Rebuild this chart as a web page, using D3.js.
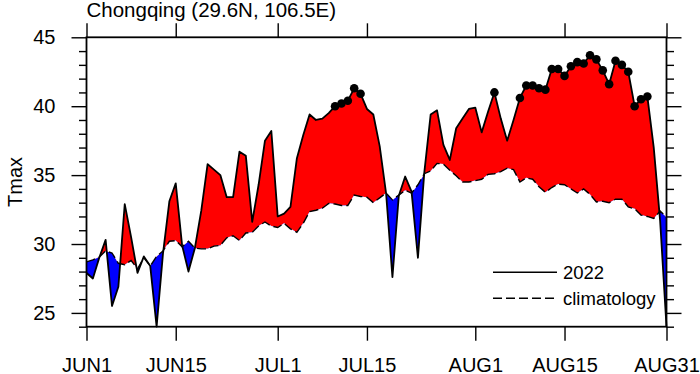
<!DOCTYPE html>
<html>
<head>
<meta charset="utf-8">
<script src="https://cdn.jsdelivr.net/npm/d3@7"></script>
<style>
    body { margin: 0; background: #fff; }
    svg { display: block; font-family: 'Liberation Sans', Arial, Helvetica, sans-serif; }
</style>
</head>
<body>
<div id="chart"></div>
<script>
// Daily Tmax at Chongqing, JUN1 .. AUG31 2022, and its climatology.
const startDate = new Date(2022, 5, 1);

const tmax2022 = [
    27.9, 27.5, 29.0, 30.3, 25.5, 26.9, 32.9, 30.5, 27.9, 29.1,
    28.4, 24.0, 29.3, 33.1, 34.4, 29.9, 28.0, 29.7, 32.4, 35.8,
    35.4, 35.0, 33.4, 33.4, 36.7, 36.4, 31.6, 34.3, 37.5, 38.2,
    32.0, 32.2, 32.7, 36.2, 37.9, 39.4, 39.0, 39.1, 39.5, 40.0,
    40.2, 40.4, 41.3, 40.9, 39.8, 39.4, 37.1, 33.7, 27.6, 33.5,
    34.9, 33.8, 29.0, 35.2, 39.4, 39.7, 37.2, 36.1, 38.4, 39.1,
    39.8, 39.9, 38.1, 39.6, 41.0, 39.1, 37.5, 39.0, 40.6, 41.5,
    41.5, 41.3, 41.2, 42.7, 42.7, 42.2, 42.9, 43.2, 43.1, 43.7,
    43.4, 42.6, 41.6, 43.3, 43.0, 42.5, 40.0, 40.5, 40.7, 37.0,
    31.7, 24.0,
];

const tmaxClim = [
    28.7, 28.85, 29.05, 29.5, 29.35, 28.6, 28.5, 28.8, 28.2, 29.0,
    28.4, 29.1, 29.5, 30.2, 30.25, 29.8, 30.2, 29.7, 29.65, 29.65,
    29.85, 29.9, 30.45, 30.6, 30.25, 30.8, 30.85, 31.3, 31.6, 31.3,
    31.2, 31.5, 31.1, 30.85, 31.5, 32.35, 32.45, 32.6, 32.95, 32.9,
    32.8, 32.8, 33.55, 33.45, 33.4, 33.0, 33.35, 33.7, 33.2, 33.55,
    33.9, 33.7, 34.3, 35.1, 35.3, 35.85, 35.8, 35.35, 34.95, 34.5,
    34.5, 34.6, 34.7, 35.05, 35.1, 35.25, 35.5, 35.4, 34.5, 34.8,
    34.7, 34.15, 33.75, 34.1, 34.35, 34.3, 34.0, 33.7, 34.0, 33.6,
    33.05, 33.1, 33.0, 33.25, 33.25, 32.7, 32.55, 32.1, 32.0, 31.85,
    32.4, 31.95,
];

// dots mark days at or above this value
const hotThreshold = 40;

const xTickLabels = ['JUN1', 'JUN15', 'JUL1', 'JUL15', 'AUG1', 'AUG15', 'AUG31'];
const xTickDates = [
    new Date(2022, 5, 1), new Date(2022, 5, 15), new Date(2022, 6, 1),
    new Date(2022, 6, 15), new Date(2022, 7, 1), new Date(2022, 7, 15),
    new Date(2022, 7, 31),
];
const yTicks = [25, 30, 35, 40, 45];

const title = 'Chongqing (29.6N, 106.5E)';
const yLabel = 'Tmax';
const legendLabels = ['2022', 'climatology'];

// Layout
const dimensions = {
    width: 700, height: 374,
    top: 37.3, right: 33.5, bottom: 47.3, left: 86.5,
};
const innerWidth = dimensions.width - dimensions.left - dimensions.right;
const innerHeight = dimensions.height - dimensions.top - dimensions.bottom;

const data = tmax2022.map((t, i) => ({
    date: d3.timeDay.offset(startDate, i),
    t: t,
    c: tmaxClim[i],
}));

const xScale = d3.scaleTime()
    .domain(d3.extent(data, d => d.date))
    .range([0, innerWidth]);

const yScale = d3.scaleLinear()
    .domain([d3.min(tmax2022), 45])
    .range([innerHeight, 0]);

const svg = d3.select('#chart')
    .append('svg')
        .attr('width', dimensions.width)
        .attr('height', dimensions.height);

const defs = svg.append('defs');

const g = svg.append('g')
    .attr('transform', `translate(${dimensions.left}, ${dimensions.top})`);

// clip regions above and below the climatology
defs.append('clipPath')
        .attr('id', 'clip-above')
    .append('path')
        .attr('d', d3.area()
            .x(d => xScale(d.date))
            .y0(0)
            .y1(d => yScale(d.c))(data));

defs.append('clipPath')
        .attr('id', 'clip-below')
    .append('path')
        .attr('d', d3.area()
            .x(d => xScale(d.date))
            .y0(d => yScale(d.c))
            .y1(innerHeight)(data));

const between = d3.area()
    .x(d => xScale(d.date))
    .y0(d => yScale(d.c))
    .y1(d => yScale(d.t));

g.append('path')
    .attr('d', between(data))
    .attr('fill', '#ff0000')
    .attr('clip-path', 'url(#clip-above)');

g.append('path')
    .attr('d', between(data))
    .attr('fill', '#0000ff')
    .attr('clip-path', 'url(#clip-below)');

const lineClim = d3.line()
    .x(d => xScale(d.date))
    .y(d => yScale(d.c));

const line2022 = d3.line()
    .x(d => xScale(d.date))
    .y(d => yScale(d.t));

g.append('path')
    .attr('d', lineClim(data))
    .attr('fill', 'none')
    .attr('stroke', '#000')
    .attr('stroke-width', 1.4)
    .attr('stroke-dasharray', '9,4');

g.append('path')
    .attr('d', line2022(data))
    .attr('fill', 'none')
    .attr('stroke', '#000')
    .attr('stroke-width', 1.8)
    .attr('stroke-linejoin', 'round');

g.selectAll('.hot')
    .data(data.filter(d => d.t >= hotThreshold))
    .join('circle')
        .attr('class', 'hot')
        .attr('cx', d => xScale(d.date))
        .attr('cy', d => yScale(d.t))
        .attr('r', 4.3)
        .attr('fill', '#000');

// Axes: outward ticks on all four sides
const yMinor = d3.range(Math.ceil(yScale.domain()[0]), 46).filter(v => v % 5 !== 0);

const styleAxis = (sel) => {
    sel.select('.domain').remove();
    sel.selectAll('line').attr('stroke', '#000').attr('stroke-width', 1.4);
    // tick-only axes leave empty labels behind
    sel.selectAll('text').filter(function() { return this.textContent === ''; }).remove();
    sel.selectAll('text')
        .attr('fill', '#000')
        .attr('font-size', '20px')
        .attr('font-family', "'Liberation Sans', Arial, sans-serif");
};

const xTickFormat = (d, i) => xTickLabels[i];

g.append('g')
    .attr('transform', `translate(0, ${innerHeight})`)
    .call(d3.axisBottom(xScale).tickValues(xTickDates).tickFormat(xTickFormat)
        .tickSize(14).tickPadding(17))
    .call(styleAxis);

g.append('g')
    .call(d3.axisTop(xScale).tickValues(xTickDates).tickFormat('').tickSize(14))
    .call(styleAxis);

g.append('g')
    .call(d3.axisLeft(yScale).tickValues(yTicks).tickSize(15).tickPadding(16))
    .call(styleAxis);

g.append('g')
    .call(d3.axisLeft(yScale).tickValues(yMinor).tickFormat('').tickSize(7.5))
    .call(styleAxis);

g.append('g')
    .attr('transform', `translate(${innerWidth}, 0)`)
    .call(d3.axisRight(yScale).tickValues(yTicks).tickFormat('').tickSize(15))
    .call(styleAxis);

g.append('g')
    .attr('transform', `translate(${innerWidth}, 0)`)
    .call(d3.axisRight(yScale).tickValues(yMinor).tickFormat('').tickSize(7.5))
    .call(styleAxis);

// frame
g.append('rect')
    .attr('width', innerWidth)
    .attr('height', innerHeight)
    .attr('fill', 'none')
    .attr('stroke', '#000')
    .attr('stroke-width', 1.8);

// Texts
svg.append('text')
    .attr('x', dimensions.left)
    .attr('y', 17)
    .attr('font-size', '20.5px')
    .text(title);

svg.append('text')
    .attr('transform', `translate(22, ${dimensions.top + innerHeight / 2}) rotate(-90)`)
    .attr('text-anchor', 'middle')
    .attr('font-size', '20px')
    .text(yLabel);

// Legend
const legend = g.append('g')
    .attr('transform', `translate(${493 - dimensions.left}, 0)`);

const legendRows = [
    { y: 272.3, dash: null },
    { y: 298.3, dash: '9,4' },
];

legendRows.forEach((row, i) => {
    const ly = row.y - dimensions.top;
    legend.append('line')
        .attr('x1', 0)
        .attr('x2', 64)
        .attr('y1', ly)
        .attr('y2', ly)
        .attr('stroke', '#000')
        .attr('stroke-width', 1.5)
        .attr('stroke-dasharray', row.dash);
    legend.append('text')
        .attr('x', 70)
        .attr('y', ly)
        .attr('dy', '0.35em')
        .attr('font-size', '18.5px')
        .text(legendLabels[i]);
});
</script>
</body>
</html>
